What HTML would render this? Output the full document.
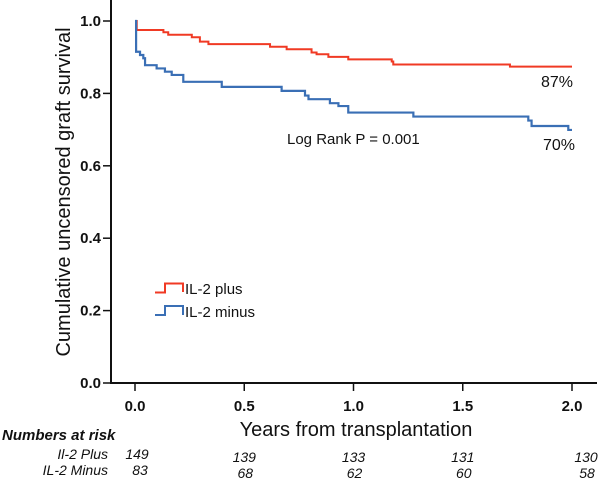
<!DOCTYPE html>
<html><head><meta charset="utf-8"><style>
html,body{margin:0;padding:0;background:#fff;}
svg{display:block;font-family:"Liberation Sans",Arial,sans-serif;}
</style></head><body>
<svg id="chart" width="600" height="482" viewBox="0 0 600 482">
<g id="axes"></g>
<g id="series"></g>
<text x="70" y="192" transform="rotate(-90 70 192)" text-anchor="middle" font-size="20" fill="#111">Cumulative uncensored graft survival</text>
<text x="356" y="436" text-anchor="middle" font-size="20" fill="#111">Years from transplantation</text>
<text x="573" y="87" text-anchor="end" font-size="16" fill="#111">87%</text>
<text x="575" y="150" text-anchor="end" font-size="16" fill="#111">70%</text>
<text x="287" y="144" font-size="15" fill="#111">Log Rank P = 0.001</text>
<g>
<path d="M155,292.5H165V283.5H183V292" fill="none" stroke="#f03a24" stroke-width="2"/>
<text x="185" y="294" font-size="15" fill="#111">IL-2 plus</text>
<path d="M155,315H165V306H183V315" fill="none" stroke="#3a6fb5" stroke-width="2"/>
<text x="185" y="317" font-size="15" fill="#111">IL-2 minus</text>
</g>
<g font-style="italic" font-size="14" fill="#111">
<text x="2" y="440" font-weight="bold" font-size="15">Numbers at risk</text>
<text x="108" y="459" text-anchor="end">Il-2 Plus</text>
<text x="108" y="475" text-anchor="end">IL-2 Minus</text>
<g id="risk"></g>
</g>
</svg>
<script>
const tPlus=[0,0.008,0.13,0.152,0.26,0.297,0.336,0.618,0.694,0.808,0.831,0.885,0.976,1.175,1.182,1.716,2.0];
const sPlus=[1.0,0.975,0.969,0.962,0.955,0.943,0.936,0.929,0.922,0.913,0.908,0.901,0.894,0.888,0.880,0.874,0.874];
const tMinus=[0,0.005,0.023,0.038,0.046,0.099,0.137,0.168,0.221,0.397,0.671,0.778,0.794,0.892,0.931,0.976,1.274,1.8,1.815,1.983,2.0];
const sMinus=[1.0,0.915,0.906,0.897,0.878,0.869,0.860,0.851,0.832,0.818,0.807,0.794,0.784,0.773,0.765,0.747,0.736,0.725,0.710,0.699,0.699];
const xTicks=[0,0.5,1.0,1.5,2.0];
const xTickLabels=["0.0","0.5","1.0","1.5","2.0"];
const yTicks=[0,0.2,0.4,0.6,0.8,1.0];
const yTickLabels=["0.0","0.2","0.4","0.6","0.8","1.0"];
const riskTimes=[0,0.5,1.0,1.5,2.0];
const riskPlus=[149,139,133,131,130];
const riskMinus=[83,68,62,60,58];

const NS="http://www.w3.org/2000/svg";
const X=t=>135+218.5*t;
const Y=v=>383-362*v;
function mk(tag,attrs,parent){const e=document.createElementNS(NS,tag);for(const k in attrs)e.setAttribute(k,attrs[k]);parent.appendChild(e);return e;}
const axes=document.getElementById('axes');
let a=mk('path',{d:'M111,0V383H597',fill:'none',stroke:'#111','stroke-width':2},axes);


xTicks.forEach((t,i)=>{
  const l=mk('line',{x1:X(t),x2:X(t),y1:383,y2:391,stroke:'#111','stroke-width':1.5},axes);
  
  
  const tx=mk('text',{x:X(t),y:411,'text-anchor':'middle','font-size':15,'font-weight':'bold',fill:'#111'},axes);
  tx.textContent=xTickLabels[i];
  
  
});
yTicks.forEach((v,i)=>{
  const l=mk('line',{x1:103,x2:111,y1:Y(v),y2:Y(v),stroke:'#111','stroke-width':1.5},axes);
  
  
  const tx=mk('text',{x:101,y:Y(v)+5,'text-anchor':'end','font-size':15,'font-weight':'bold',fill:'#111'},axes);
  tx.textContent=yTickLabels[i];
  
  
});
function stepPath(ts,ss){
  let d='M'+X(ts[0])+','+Y(ss[0]);
  for(let i=1;i<ts.length;i++){d+='H'+X(ts[i])+'V'+Y(ss[i]);}
  return d;
}
const ser=document.getElementById('series');
const pp=mk('path',{d:stepPath(tPlus,sPlus),fill:'none',stroke:'#f03a24','stroke-width':2},ser);


const pm=mk('path',{d:stepPath(tMinus,sMinus),fill:'none',stroke:'#3a6fb5','stroke-width':2.2},ser);


const risk=document.getElementById('risk');
riskTimes.forEach((t,i)=>{
  const dy=i===0?0:3;
  const cx=i===4?586:X(t)+(i===0?2:0);
  const a1=mk('text',{x:cx,y:459+dy,'text-anchor':'middle'},risk);
  a1.textContent=riskPlus[i];
  
  
  const a2=mk('text',{x:cx+(i===0?3:1),y:475+dy,'text-anchor':'middle'},risk);
  a2.textContent=riskMinus[i];
  
  
});
</script>
</body></html>
